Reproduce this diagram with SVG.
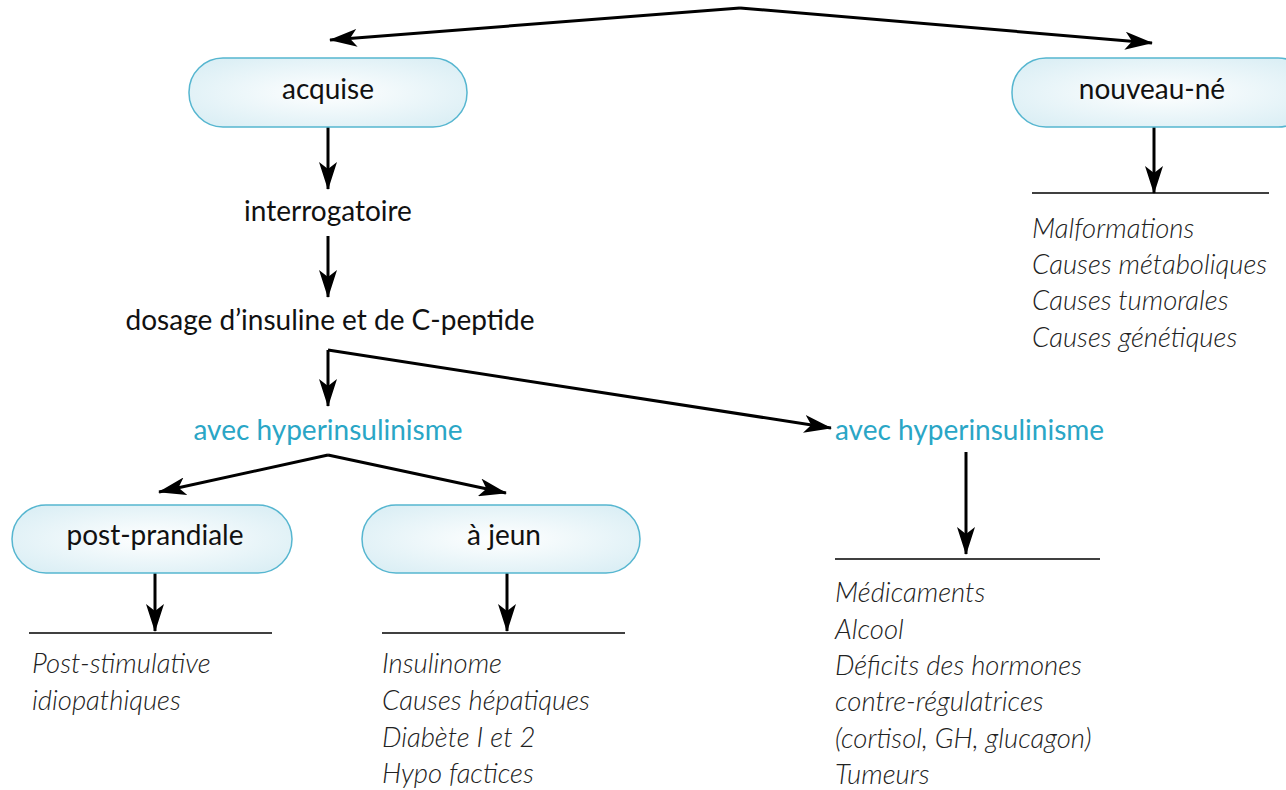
<svg xmlns="http://www.w3.org/2000/svg" width="1286" height="790" viewBox="0 0 1286 790">
<defs>
<radialGradient id="pill" cx="50%" cy="50%" r="60%">
<stop offset="0" stop-color="#ffffff"/>
<stop offset="1" stop-color="#dcefF5"/>
</radialGradient>
<marker id="ah" viewBox="0 0 28 18" refX="27" refY="9" markerWidth="28" markerHeight="18" markerUnits="userSpaceOnUse" orient="auto">
<path d="M0,0 L28,9 L0,18 L7,9 z" fill="#000"/>
</marker>
<style>
.pill{fill:url(#pill);stroke:#56b6d0;stroke-width:1.5}
.lbl{font-family:Lato,"Open Sans","Liberation Sans",sans-serif;font-size:28px;fill:#111;text-anchor:middle}
.cy{fill:#2aa6c6}
.lst{font-family:Lato,"Open Sans","Liberation Sans",sans-serif;font-size:27.5px;font-style:italic;font-weight:300;fill:#222}
.con{fill:none;stroke:#000;stroke-width:3;marker-end:url(#ah)}
.rule{stroke:#000;stroke-width:1.5}
</style>
</defs>
<rect width="1286" height="790" fill="#fff"/>
<g id="connectors">
<path class="con" d="M740,8 L330,40"/>
<path class="con" d="M740,8 L1152,43"/>
<path class="con" d="M328,127 L328,189"/>
<path class="con" d="M328,236 L328,297"/>
<path class="con" d="M328,350 L328,406"/>
<path class="con" d="M328,350 L831,428"/>
<path class="con" d="M328,455 L159,492"/>
<path class="con" d="M328,455 L506,493"/>
<path class="con" d="M155,573 L155,631"/>
<path class="con" d="M507,573 L507,631"/>
<path class="con" d="M966,452 L966,554"/>
<path class="con" d="M1154,127 L1154,193"/>
</g>
<g id="acquise">
<rect class="pill" x="189" y="58" width="278" height="69" rx="34"/>
<text class="lbl" x="328" y="99">acquise</text>
</g>
<g id="nouveau-ne">
<rect class="pill" x="1012" y="58" width="300" height="69" rx="34"/>
<text class="lbl" x="1152" y="99">nouveau-né</text>
</g>
<g id="interrogatoire">
<text class="lbl" x="328" y="221">interrogatoire</text>
</g>
<g id="dosage">
<text class="lbl" x="330" y="330">dosage d’insuline et de C-peptide</text>
</g>
<g id="avec-hyper-1">
<text class="lbl cy" x="328" y="440">avec hyperinsulinisme</text>
</g>
<g id="avec-hyper-2">
<text class="lbl cy" x="835" y="440" style="text-anchor:start">avec hyperinsulinisme</text>
</g>
<g id="post-prandiale">
<rect class="pill" x="12" y="505" width="280" height="68" rx="34"/>
<text class="lbl" x="155" y="545">post-prandiale</text>
</g>
<g id="a-jeun">
<rect class="pill" x="362" y="505" width="278" height="68" rx="34"/>
<text class="lbl" x="504" y="545">à jeun</text>
</g>
<g id="list-nouveau-ne">
<line class="rule" x1="1032" y1="193" x2="1269" y2="193"/>
<text class="lst" x="1032" y="238">Malformations</text>
<text class="lst" x="1032" y="274">Causes métaboliques</text>
<text class="lst" x="1032" y="310">Causes tumorales</text>
<text class="lst" x="1032" y="347">Causes génétiques</text>
</g>
<g id="list-post-prandiale">
<line class="rule" x1="29" y1="633" x2="272" y2="633"/>
<text class="lst" x="32" y="673">Post-stimulative</text>
<text class="lst" x="32" y="710">idiopathiques</text>
</g>
<g id="list-a-jeun">
<line class="rule" x1="382" y1="633" x2="625" y2="633"/>
<text class="lst" x="382" y="673">Insulinome</text>
<text class="lst" x="382" y="710">Causes hépatiques</text>
<text class="lst" x="382" y="747">Diabète  I  et 2</text>
<text class="lst" x="382" y="783">Hypo factices</text>
</g>
<g id="list-sans-hyper">
<line class="rule" x1="835" y1="559" x2="1100" y2="559"/>
<text class="lst" x="835" y="602">Médicaments</text>
<text class="lst" x="835" y="639">Alcool</text>
<text class="lst" x="835" y="675">Déficits des hormones</text>
<text class="lst" x="835" y="711">contre-régulatrices</text>
<text class="lst" x="835" y="748">(cortisol, GH, glucagon)</text>
<text class="lst" x="835" y="784">Tumeurs</text>
</g>
</svg>
